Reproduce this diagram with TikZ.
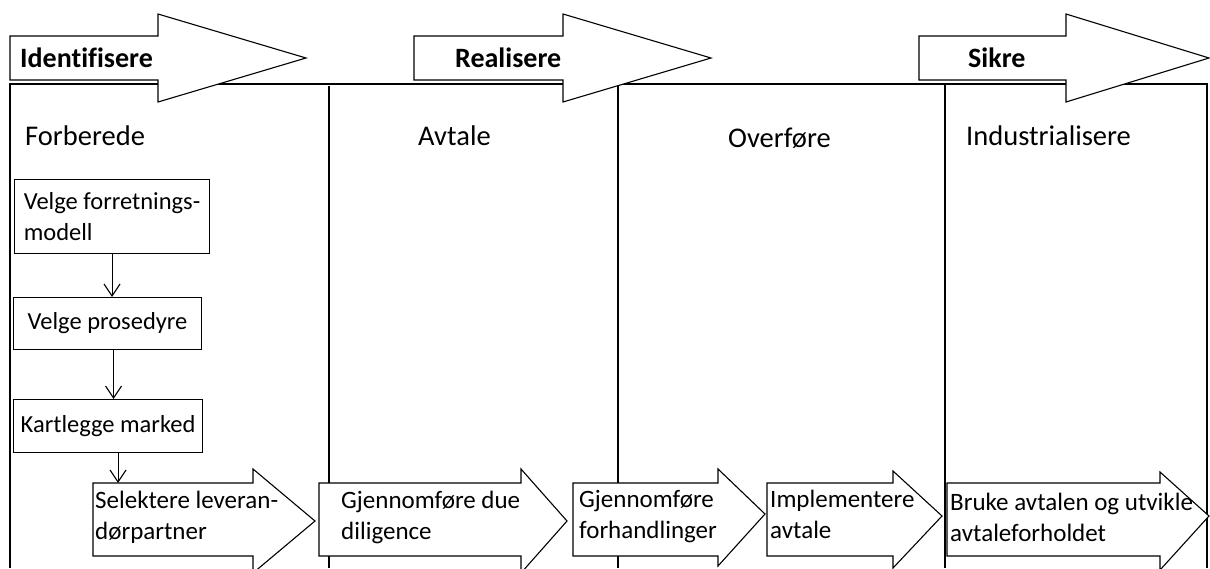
\documentclass[tikz,border=0pt]{standalone}
\usepackage{fontspec}
\setmainfont[Ligatures=NoCommon]{Carlito}
\usetikzlibrary{arrows.meta}

\begin{document}
\begin{tikzpicture}[x=1pt,y=-1pt]

  \clip (0,0) rectangle (1210,568);

  % node styles
  \tikzstyle{Box}=[
  anchor=north west,
  line width=1.1pt,
  align=left,
  inner sep=0pt,
  font=\fontsize{24.5}{31}\selectfont,
  shape=rectangle,draw]

  \tikzstyle{Phase}=[anchor=base west,inner sep=0pt,font=\fontsize{28.5}{34}\selectfont]
  \tikzstyle{Stage}=[anchor=base west,inner sep=0pt,font=\fontsize{28}{34}\selectfont\bfseries]
  \tikzstyle{StepText}=[anchor=base west,inner sep=0pt,align=left,font=\fontsize{25}{31}\selectfont]
  \tikzstyle{Outline}=[line width=1.1pt,fill=white]
  \tikzstyle{Flow}=[line width=1.1pt,-{Straight Barb[length=12pt,width=16pt]}]

  % frame and columns
  \draw[line width=1.1pt] (10,568) -- (10,84) -- (1207,84) -- (1207,568);
  \draw[line width=1.1pt] (329,86) -- (329,568);
  \draw[line width=1.1pt] (618,84) -- (618,568);
  \draw[line width=1.1pt] (945,84) -- (945,568);

  % top arrows
  \draw[Outline] (10,36) -- (158,36) -- (158,14) -- (306,58) -- (158,102) -- (158,80) -- (10,80) -- cycle;
  \draw[Outline] (414,36) -- (563,36) -- (563,14) -- (711,58) -- (563,102) -- (563,80) -- (414,80) -- cycle;
  \draw[Outline] (919,36) -- (1066,36) -- (1066,14) -- (1209,58) -- (1066,102) -- (1066,80) -- (919,80) -- cycle;

  \node[Stage] (T1) at (20,67) {Identifisere};
  \node[Stage] (T2) at (455,67) {Realisere};
  \node[Stage] (T3) at (968,67) {Sikre};

  % column titles
  \node[Phase] (P1) at (25,145) {Forberede};
  \node[Phase] (P2) at (418,145) {Avtale};
  \node[Phase] (P3) at (728,147) {Overføre};
  \node[Phase] (P4) at (966,145) {Industrialisere};

  % boxes
  \node[Box,minimum width=195,minimum height=74] (B1) at (14,179) {Velge forretnings-\\modell};
  \node[Box,minimum width=188,minimum height=52] (B2) at (13,297) {Velge prosedyre};
  \node[Box,minimum width=189,minimum height=53] (B3) at (13,399) {Kartlegge marked};

  % bottom arrows
  \draw[Outline] (93,483) -- (253,483) -- (253,469) -- (315,521) -- (253,573) -- (253,556) -- (93,556) -- cycle;
  \draw[Outline] (319,483) -- (521,483) -- (521,469) -- (567,521) -- (521,573) -- (521,556) -- (319,556) -- cycle;
  \draw[Outline] (573,483) -- (718,483) -- (718,469) -- (765,514) -- (718,566) -- (718,556) -- (573,556) -- cycle;
  \draw[Outline] (767,483) -- (893,483) -- (893,471) -- (942,516) -- (893,568) -- (893,556) -- (767,556) -- cycle;
  \draw[Outline] (947,483) -- (1160,483) -- (1160,472) -- (1209,516) -- (1160,570) -- (1160,556) -- (947,556) -- cycle;
  \coordinate (A1top) at (93,483);

  \node[StepText] (A1) at (95,539) {Selektere leveran-\\dørpartner};
  \node[StepText] (A2) at (341,539) {Gjennomføre due\\diligence};
  \node[StepText] (A3) at (579,538) {Gjennomføre\\forhandlinger};
  \node[StepText] (A4) at (770,538) {Implementere\\avtale};
  \node[StepText] (A5) at (950,541) {Bruke avtalen og utvikle\\avtaleforholdet};

  % flow
  \draw[Flow] (B1.south) -- (B1.south |- B2.north);
  \draw[Flow] ([xshift=6pt]B2.south) -- ([xshift=6pt]B2.south |- B3.north);
  \draw[Flow] ([xshift=10pt]B3.south) -- ([xshift=10pt]B3.south |- A1top);

\end{tikzpicture}
\end{document}
